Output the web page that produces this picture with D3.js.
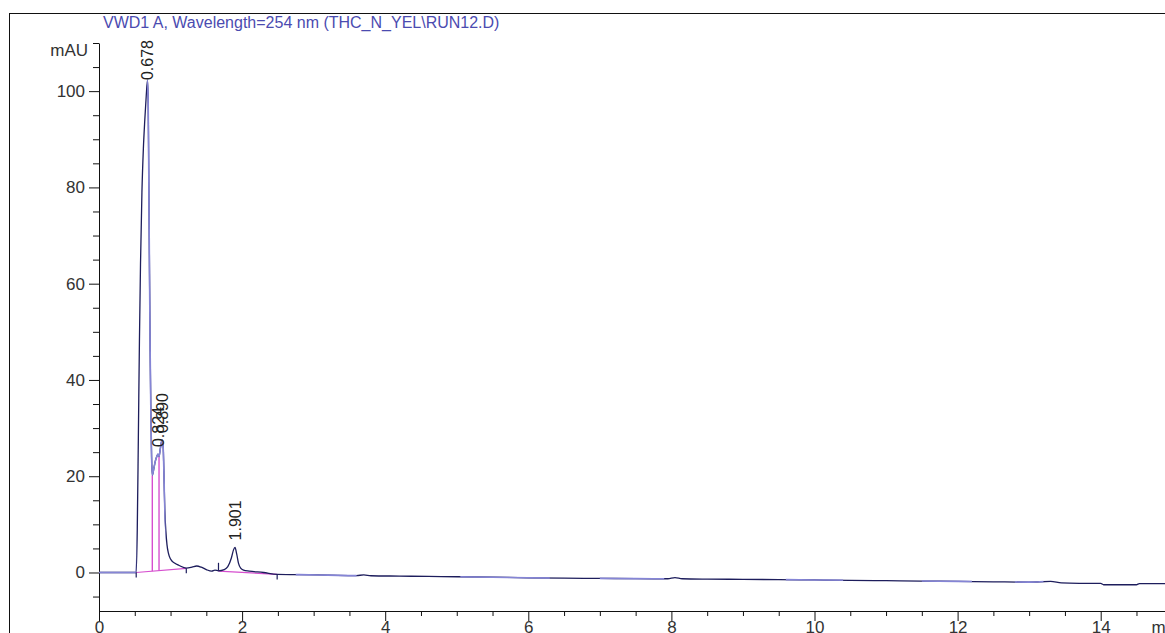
<!DOCTYPE html>
<html>
<head>
<meta charset="utf-8">
<script src="https://cdn.jsdelivr.net/npm/d3@7"></script>
<style>
  html, body { margin: 0; padding: 0; background: #fff; }
  svg { display: block; font-family: "Liberation Sans", Arial, sans-serif; }
</style>
</head>
<body>
<svg id="chart" width="1165" height="633"></svg>
<script>
// Detector signal: retention time (min) and absorbance (mAU)
const signalTime = [
  0, 0.25, 0.50, 0.52, 0.535, 0.55, 0.565, 0.58, 0.60, 0.62, 0.64, 0.66, 0.678,
  0.688, 0.695, 0.705, 0.715, 0.725, 0.735, 0.745, 0.765, 0.785, 0.805, 0.824,
  0.839, 0.855, 0.875, 0.89, 0.90, 0.91, 0.92, 0.935, 0.95, 0.97, 1.00, 1.05,
  1.12, 1.22, 1.30, 1.365, 1.43, 1.50, 1.575, 1.62, 1.67, 1.75, 1.80, 1.85,
  1.88, 1.901, 1.925, 1.95, 1.98, 2.02, 2.10, 2.30, 2.49, 2.80, 3.20, 3.60,
  3.70, 3.80, 4.20, 4.60, 5.00, 5.50, 6.00, 6.50, 7.00, 7.50, 7.95, 8.05, 8.15,
  8.50, 9.00, 9.50, 10.00, 10.50, 11.00, 11.50, 12.00, 12.50, 13.00, 13.30,
  13.45, 13.70, 14.00, 14.04, 14.50, 14.54, 15.00, 15.50
];
const signalMAU = [
  0, 0, 0, 0, 9, 28, 48, 64, 79, 88, 94, 99, 102.3,
  97, 84, 64, 46, 33, 24, 20.2, 21.5, 23, 24, 24.6,
  24.1, 25.5, 27.2, 27.5, 25, 19, 13, 8.5, 5.8, 4.0, 2.8, 2.0,
  1.45, 0.9, 1.1, 1.35, 1.1, 0.6, 0.27, 0.5, 0.35, 0.6, 1.2, 3.0,
  4.7, 5.2, 3.8, 1.9, 0.9, 0.5, 0.3, 0.0, -0.4, -0.45, -0.55, -0.65,
  -0.5, -0.68, -0.75, -0.82, -0.88, -0.98, -1.1, -1.18, -1.22, -1.28, -1.3, -1.05, -1.3,
  -1.38, -1.42, -1.48, -1.55, -1.62, -1.7, -1.78, -1.85, -1.93, -2.0, -1.85,
  -2.15, -2.25, -2.27, -2.55, -2.55, -2.3, -2.3, -2.32
];

// Time windows where the trace is rendered in the lighter pen
const lightPenRanges = [
  [0, 0.52], [0.672, 0.93], [2.75, 3.6], [5.05, 6.3], [7.0, 7.9],
  [9.6, 10.4], [11.5, 12.2], [12.8, 13.2]
];

// Integrated peaks (retention times, min)
const peakTimes = [0.678, 0.824, 0.890, 1.901];
const peakLabels = ["0.678", "0.824", "0.890", "1.901"];

// Integration baselines: [startTime, startMAU, endTime, endMAU]
const integrationBaselines = [
  [0.52, 0.0, 1.22, 0.85],
  [1.67, 0.3, 2.49, -0.4]
];
// Perpendicular drops separating co-eluting peaks (min)
const dropTimes = [0.745, 0.839];
// Peak start/end markers: time and direction (+1 up, -1 down)
const markerTimes = [0.52, 1.22, 1.67, 2.49];
const markerDirs = [-1, -1, 1, -1];

// Axis ticks
const yMajorTicks = [0, 20, 40, 60, 80, 100];
const yMinorTicks = [-5, 5, 10, 15, 25, 30, 35, 45, 50, 55, 65, 70, 75, 85, 90, 95, 105, 110];
const xMajorTicks = [0, 2, 4, 6, 8, 10, 12, 14];
const xMinorTicks = d3.range(0.5, 15.5, 0.5).filter(v => v % 2 !== 0);

const titleText = "VWD1 A, Wavelength=254 nm (THC_N_YEL\\RUN12.D)";

const svg = d3.select("#chart");

const x = d3.scaleLinear().domain([0, 15.5]).range([99, 99 + 15.5 * 71.55]);
const y = d3.scaleLinear().domain([-8, 110]).range([611, 43]);

// Outer frame
svg.append("rect")
  .attr("x", 9.5).attr("y", 13.5)
  .attr("width", 1300).attr("height", 700)
  .attr("fill", "none").attr("stroke", "#111").attr("stroke-width", 1);

// Title
svg.append("text")
  .attr("x", 103).attr("y", 28)
  .attr("font-size", 16).attr("fill", "#4b4bb0")
  .text(titleText);

// Y axis
const yMinor = svg.append("g").attr("transform", "translate(99,0)")
  .call(d3.axisLeft(y).tickValues(yMinorTicks).tickSize(6).tickSizeOuter(0).tickFormat(""));
yMinor.select(".domain").remove();
const yAxis = svg.append("g").attr("transform", "translate(99,0)")
  .call(d3.axisLeft(y).tickValues(yMajorTicks).tickSize(10).tickPadding(4).tickSizeOuter(0));
yAxis.selectAll("text").attr("font-size", 17).attr("fill", "#333")
  .attr("font-family", "Liberation Sans, Arial, sans-serif");

svg.append("text")
  .attr("x", 88).attr("y", 56)
  .attr("text-anchor", "end").attr("font-size", 17).attr("fill", "#333")
  .text("mAU");

// X axis
const xg = svg.append("g").attr("transform", "translate(0,611)");
const xMinor = xg.append("g")
  .call(d3.axisBottom(x).tickValues(xMinorTicks).tickSize(5).tickSizeOuter(0).tickFormat(""));
xMinor.select(".domain").remove();
const xAxis = xg.append("g")
  .call(d3.axisBottom(x).tickValues(xMajorTicks).tickSize(10).tickPadding(0).tickSizeOuter(0));
xAxis.selectAll("text").attr("font-size", 17).attr("fill", "#333")
  .attr("font-family", "Liberation Sans, Arial, sans-serif");
xg.append("text")
  .attr("x", x(14.9)).attr("y", 10).attr("dy", "0.71em")
  .attr("text-anchor", "middle").attr("font-size", 17).attr("fill", "#333")
  .text("min");

svg.selectAll(".tick line, .domain").attr("stroke", "#111");

// Signal data
const signal = signalTime.map((t, i) => ({ t, v: signalMAU[i] }));
const valueAt = t => signal.find(d => Math.abs(d.t - t) < 1e-9).v;

const line = d3.line()
  .x(d => x(d.t)).y(d => y(d.v))
  .curve(d3.curveMonotoneX);

// Integration baselines (magenta)
const magenta = "#d64fcf";
const baselineAt = t => {
  const b = integrationBaselines.find(s => t >= s[0] && t <= s[2]);
  return b[1] + (b[3] - b[1]) * (t - b[0]) / (b[2] - b[0]);
};
svg.append("g").selectAll("line.base")
  .data(integrationBaselines).join("line")
  .attr("x1", d => x(d[0])).attr("y1", d => y(d[1]))
  .attr("x2", d => x(d[2])).attr("y2", d => y(d[3]))
  .attr("stroke", magenta).attr("stroke-width", 1.2);
svg.append("g").selectAll("line.drop")
  .data(dropTimes).join("line")
  .attr("x1", d => x(d)).attr("x2", d => x(d))
  .attr("y1", d => y(baselineAt(d))).attr("y2", d => y(valueAt(d)))
  .attr("stroke", magenta).attr("stroke-width", 1.4);

// Trace: dark pen, then light pen over its windows
svg.append("path")
  .datum(signal)
  .attr("fill", "none").attr("stroke", "#1d1d5c").attr("stroke-width", 1.3)
  .attr("d", line);

const defs = svg.append("defs");
const clip = defs.append("clipPath").attr("id", "lightPen");
clip.selectAll("rect").data(lightPenRanges).join("rect")
  .attr("x", d => x(d[0])).attr("width", d => x(d[1]) - x(d[0]))
  .attr("y", 0).attr("height", 633);
svg.append("path")
  .datum(signal)
  .attr("clip-path", "url(#lightPen)")
  .attr("fill", "none").attr("stroke", "#8585d6").attr("stroke-width", 1.6)
  .attr("d", line);

// Peak start/end markers
svg.append("g").selectAll("line")
  .data(markerTimes).join("line")
  .attr("x1", d => x(d)).attr("x2", d => x(d))
  .attr("y1", d => y(valueAt(d)))
  .attr("y2", (d, i) => y(valueAt(d)) - markerDirs[i] * (markerDirs[i] > 0 ? 8 : 5))
  .attr("stroke", "#1d1d5c").attr("stroke-width", 1.2);

// Retention time labels
const labels = svg.append("g");
peakTimes.forEach((t, i) => {
  const txt = labels.append("text")
    .attr("font-size", 16).attr("fill", "#222")
    .text(peakLabels[i]);
  const len = txt.node().getComputedTextLength();
  const bottom = Math.max(y(valueAt(t)) - 7, 40 + len);
  txt.attr("transform", `translate(${x(t) + 5.8},${bottom}) rotate(-90)`);
});
</script>
</body>
</html>
